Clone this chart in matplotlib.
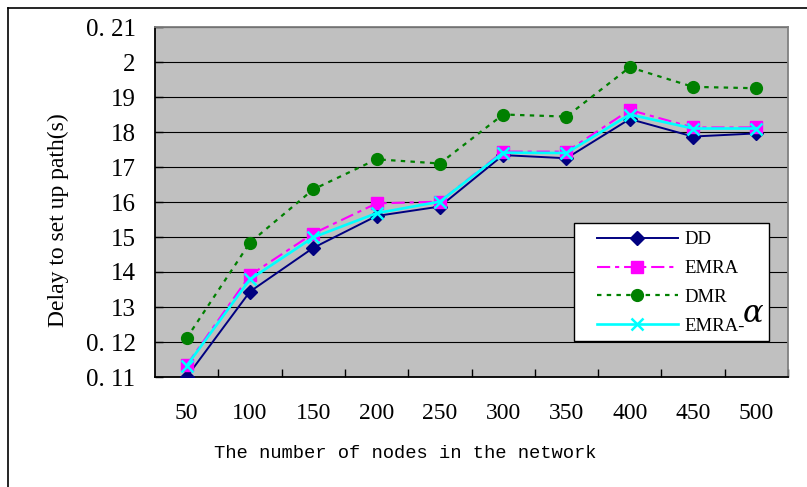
import matplotlib
matplotlib.use("Agg")
import matplotlib.pyplot as plt
from matplotlib.lines import Line2D
from matplotlib.patches import Rectangle
import numpy as np

plt.rcParams['lines.scale_dashes'] = False

categories = ["50", "100", "150", "200", "250", "300", "350", "400", "450", "500"]
dd = [0.1100, 0.1344, 0.1469, 0.1560, 0.1587, 0.1734, 0.1725, 0.1837, 0.1787, 0.1796]
emra = [0.1134, 0.1391, 0.1510, 0.1596, 0.1601, 0.1744, 0.1744, 0.1863, 0.1813, 0.1813]
dmr = [0.1211, 0.1484, 0.1636, 0.1722, 0.1710, 0.1850, 0.1844, 0.1985, 0.1929, 0.1925]
emra_a = [0.1132, 0.1379, 0.1499, 0.1568, 0.1601, 0.1741, 0.1740, 0.1850, 0.1810, 0.1810]
ytick_vals = [0.11, 0.12, 0.13, 0.14, 0.15, 0.16, 0.17, 0.18, 0.19, 0.20, 0.21]
ytick_labels = ["0. 11", "0. 12", "13", "14", "15", "16", "17", "18", "19", "2", "0. 21"]

W, H = 807, 487
fig = plt.figure(figsize=(W / 100, H / 100), dpi=100)
fig.patch.set_facecolor("white")

L, R, T, B = 155, 788, 27, 377
ax = fig.add_axes([L / W, 1 - B / H, (R - L) / W, (B - T) / H])
ax.set_facecolor("#C0C0C0")

x = np.arange(len(categories))
ax.plot(x, dd, color="#000080", lw=1.4, marker="D", ms=7.5, label="DD", zorder=3)
ax.plot(x, emra, color="#FF00FF", lw=1.5, dashes=(9.5, 3.5, 3, 3.5), marker="s", ms=8.5,
        label="EMRA", zorder=4)
ax.plot(x, dmr, color="#008000", lw=1.6, dashes=(3.2, 3.8), marker="o", ms=8.5,
        label="DMR", zorder=3)
ax.plot(x, emra_a, color="#00FFFF", lw=1.9, marker="x", ms=8.5, mew=1.8,
        label="EMRA-", zorder=5)

ax.set_xlim(-0.5, len(categories) - 0.5)
ax.set_ylim(0.11, 0.21)
ax.set_yticks(ytick_vals)
ax.set_yticklabels(ytick_labels, fontfamily="Liberation Serif", fontsize=18)
ax.tick_params(axis="y", direction="in", length=6, width=1, pad=14, colors="black")
ax.set_xticks(x)
ax.set_xticklabels(categories, fontfamily="Liberation Serif", fontsize=17)
ax.tick_params(axis="x", which="major", length=0, pad=19)
ax.set_xticks(np.arange(0.5, len(categories), 1.0), minor=True)
ax.tick_params(axis="x", which="minor", direction="in", length=6, width=1)

ax.grid(axis="y", color="black", lw=0.8)
ax.set_axisbelow(True)
for s in ["left", "bottom"]:
    ax.spines[s].set_color("black")
    ax.spines[s].set_linewidth(1.3)
for s in ["top", "right"]:
    ax.spines[s].set_color("#808080")
    ax.spines[s].set_linewidth(1.3)

fig.text(58 / W, 1 - 220 / H, "Delay to set up path(s)", rotation=90, ha="center",
         va="center", fontfamily="Liberation Serif", fontsize=17)
fig.text(405 / W, 1 - 454 / H, "The number of nodes in the network", ha="center",
         va="center", fontfamily="Liberation Mono", fontsize=13.5)

# legend box
bx0, bx1, by0, by1 = 574, 769, 223, 341
ax.add_patch(Rectangle(((bx0 - L) / (R - L), 1 - (by1 - T) / (B - T)),
                       (bx1 - bx0) / (R - L), (by1 - by0) / (B - T),
                       transform=ax.transAxes, facecolor="white", edgecolor="black",
                       lw=1.0, zorder=10))
leg = ax.legend(loc="upper left", bbox_to_anchor=((597 - L) / (R - L), 1 - (231 - T) / (B - T)),
                frameon=False, borderpad=0, borderaxespad=0, handlelength=4.3,
                handletextpad=0.35, labelspacing=0.63, numpoints=1,
                prop={"family": "Liberation Serif", "size": 13.5})
leg.set_zorder(11)
fig.text(753 / W, 1 - 314 / H, "α", ha="center", va="center", fontfamily="DejaVu Serif",
         style="italic", fontsize=22, zorder=12)

# outer frame
fig.add_artist(Line2D([8 / W, 8 / W], [0, 1 - 8 / H], color="black", lw=1.2,
                      transform=fig.transFigure))
fig.add_artist(Line2D([8 / W, 1], [1 - 8 / H, 1 - 8 / H], color="black", lw=1.2,
                      transform=fig.transFigure))

fig.savefig("out.png", dpi=100)
